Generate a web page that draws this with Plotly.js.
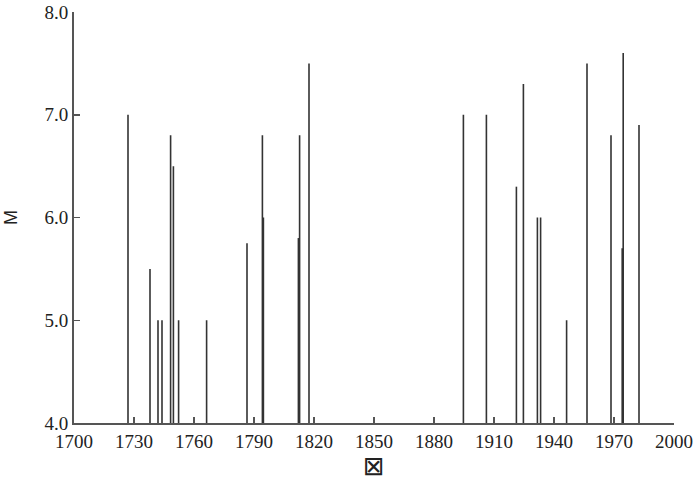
<!DOCTYPE html>
<html>
<head>
<meta charset="utf-8">
<script src="https://cdn.plot.ly/plotly-3.0.1.min.js"></script>
<style>
  html, body { margin: 0; padding: 0; background: #fff; }
  #chart { width: 700px; height: 481px; }
</style>
</head>
<body>
<div id="chart"></div>
<script>
  // earthquake years and magnitudes
  var years = [1727, 1738, 1742, 1744, 1748.3, 1749.7, 1752.3, 1766.3, 1786.5, 1794.2, 1794.7,
               1812.2, 1812.8, 1817.5, 1894.7, 1906.2, 1921.2, 1924.7, 1931.7, 1933.3,
               1946.3, 1956.5, 1968.5, 1974.1, 1974.6, 1982.5];
  var mags = [7.0, 5.5, 5.0, 5.0, 6.8, 6.5, 5.0, 5.0, 5.75, 6.8, 6.0,
              5.8, 6.8, 7.5, 7.0, 7.0, 6.3, 7.3, 6.0, 6.0,
              5.0, 7.5, 6.8, 5.7, 7.6, 6.9];
  var baseM = 4.0;
  var xTicks = [1700, 1730, 1760, 1790, 1820, 1850, 1880, 1910, 1940, 1970, 2000];

  // each event is a vertical stem from the base up to its magnitude
  var sx = [], sy = [];
  for (var i = 0; i < years.length; i++) {
    sx.push(years[i], years[i], null);
    sy.push(baseM, mags[i], null);
  }

  var data = [{
    x: sx,
    y: sy,
    type: 'scatter',
    mode: 'lines',
    connectgaps: false,
    line: { color: '#333333', width: 1.6 },
    hoverinfo: 'skip'
  }];

  var layout = {
    width: 700,
    height: 481,
    showlegend: false,
    paper_bgcolor: '#ffffff',
    plot_bgcolor: '#ffffff',
    margin: { l: 74, r: 26, t: 12, b: 58 },
    xaxis: {
      range: [1700, 2000],
      tickvals: xTicks,
      ticks: 'inside',
      ticklen: 6,
      tickwidth: 1.5,
      tickcolor: '#555',
      showline: true,
      linecolor: '#555',
      linewidth: 2,
      showgrid: false,
      zeroline: false,
      tickfont: { family: 'Liberation Serif, serif', size: 19, color: '#222' },
      title: { text: '\u22A0', font: { family: 'DejaVu Sans', size: 26, color: '#222' }, standoff: 9 }
    },
    yaxis: {
      range: [4, 8],
      dtick: 1,
      tickformat: '.1f',
      ticks: 'inside',
      ticklen: 6,
      tickwidth: 1.5,
      tickcolor: '#555',
      showline: true,
      linecolor: '#555',
      linewidth: 2,
      showgrid: false,
      zeroline: false,
      tickfont: { family: 'Liberation Serif, serif', size: 19, color: '#222' },
      title: { text: 'M', font: { family: 'Liberation Sans, Arial, sans-serif', size: 18, color: '#222' }, standoff: 22 }
    }
  };

  Plotly.newPlot('chart', data, layout, { displayModeBar: false, staticPlot: true });
</script>
</body>
</html>
